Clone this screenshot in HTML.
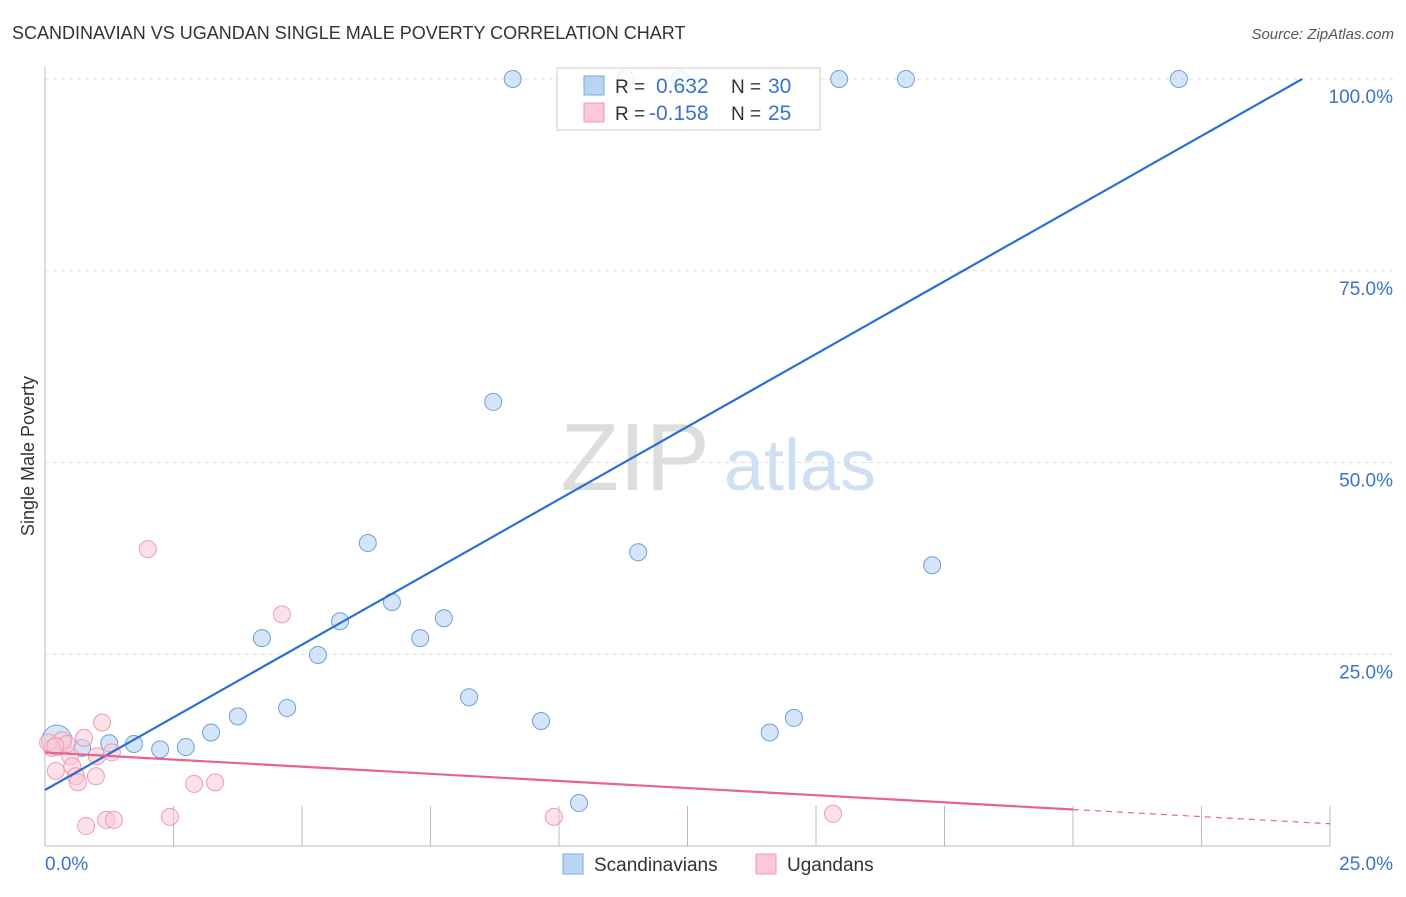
<!DOCTYPE html>
<html><head><meta charset="utf-8"><style>
body{margin:0;background:#fff;font-family:"Liberation Sans",sans-serif;}
svg text{font-family:"Liberation Sans",sans-serif;}
</style></head><body>
<svg id="chart" width="1406" height="892" viewBox="0 0 1406 892" xmlns="http://www.w3.org/2000/svg">
<text x="12" y="39" font-size="18" fill="#333">SCANDINAVIAN VS UGANDAN SINGLE MALE POVERTY CORRELATION CHART</text>
<text x="1394" y="39" font-size="15" fill="#555" text-anchor="end" font-style="italic">Source: ZipAtlas.com</text>
<text transform="translate(34,456) rotate(-90)" font-size="18" fill="#333" text-anchor="middle">Single Male Poverty</text>
<g id="grid"></g>
<g><text x="635" y="490" font-size="96" fill="#ddd" font-family="Liberation Serif" text-anchor="middle">ZIP</text><text x="800" y="490" font-size="72" fill="#cfe0f3" text-anchor="middle">atlas</text></g>
<g id="marks"></g>
<g>
<rect x="557" y="68" width="263" height="62" fill="#fff" fill-opacity="0.85" stroke="#ccc"/>
<rect x="584" y="76" width="20" height="19" fill="#b9d3f3" stroke="#7aa8e0"/>
<rect x="584" y="103" width="20" height="19" fill="#fbc8d6" stroke="#ef9ab3"/>
<text x="615" y="93" font-size="19" fill="#333">R =</text><text x="656" y="93" font-size="21" fill="#3a74c9">0.632</text>
<text x="731" y="93" font-size="19" fill="#333">N =</text><text x="768" y="93" font-size="21" fill="#3a74c9">30</text>
<text x="615" y="120" font-size="19" fill="#333">R =</text><text x="649" y="120" font-size="21" fill="#3a74c9">-0.158</text>
<text x="731" y="120" font-size="19" fill="#333">N =</text><text x="768" y="120" font-size="21" fill="#3a74c9">25</text>
</g>
<g>
<rect x="563" y="854" width="20" height="20" fill="#b9d3f3" stroke="#7aa8e0"/>
<text x="594" y="871" font-size="19" fill="#333">Scandinavians</text>
<rect x="756" y="854" width="20" height="20" fill="#fbc8d6" stroke="#ef9ab3"/>
<text x="787" y="871" font-size="19" fill="#333">Ugandans</text>
</g>
</svg>
<script>
const yTicks=[25,50,75,100];
const yTickLabels=["25.0%","50.0%","75.0%","100.0%"];
const xTickLabels=["0.0%","25.0%"];
const blueX=[9.1,11.3,12.35,15.45,16.75,22.06,8.72,6.28,11.54,17.26,6.75,5.74,7.76,4.22,7.3,5.31,8.25,4.71,3.75,9.65,14.57,14.1,3.23,1.73,1.25,2.24,2.74,10.39,0.72,0.23];
const blueY=[100,100,100,100,100,100,57.9,39.5,38.3,36.6,31.8,29.3,29.7,27.1,27.1,24.9,19.4,18.0,16.9,16.3,16.7,14.8,14.8,13.3,13.4,12.6,12.9,5.6,12.8,13.8];
const pinkX=[2.0,4.61,1.11,0.33,0.76,0.14,0.49,1.01,1.3,0.21,0.53,0.6,0.64,0.99,2.9,3.31,0.8,1.19,1.34,2.43,9.9,15.33,0.43,0.06,0.2];
const pinkY=[38.7,30.2,16.1,13.8,14.1,12.8,11.7,11.7,12.2,9.8,10.4,9.1,8.3,9.1,8.1,8.3,2.6,3.4,3.4,3.8,3.8,4.2,13.3,13.5,13.0];
const blueLine=[7.3,3.79]; // intercept, slope
const pinkLine=[12.2,-0.372];
const X0=45,X1=1330,Y0=846,Y100=79;
const sx=v=>X0+(X1-X0)*v/25, sy=v=>Y0-(Y0-Y100)*v/100;
const NS="http://www.w3.org/2000/svg";
function mk(parent,tag,attrs){const e=document.createElementNS(NS,tag);for(const k in attrs)e.setAttribute(k,attrs[k]);parent.appendChild(e);return e;}
const grid=document.getElementById('grid'),marks=document.getElementById('marks');
yTicks.forEach((t,i)=>{
 const l=mk(grid,'line',{x1:45,x2:1394,y1:sy(t),y2:sy(t),stroke:'#ddd','stroke-dasharray':'4,4'});
 
 
 const tx=mk(grid,'text',{x:1393,y:sy(t)+24,'font-size':19,fill:'#3a74c9','text-anchor':'end'});
 tx.textContent=yTickLabels[i];
 
 
});
const ax=mk(grid,'line',{x1:45,x2:45,y1:67,y2:846,stroke:'#bbb'});


const bx=mk(grid,'line',{x1:45,x2:1330,y1:846,y2:846,stroke:'#bbb'});


for(let i=1;i<=10;i++){const t=mk(grid,'line',{x1:sx(i*2.5),x2:sx(i*2.5),y1:806,y2:846,stroke:'#bbb'});
 
 }
xTickLabels.forEach((s,i)=>{const t=mk(grid,'text',{x:i?1393:45,y:870,'font-size':19,fill:'#3a74c9','text-anchor':i?'end':'start'});t.textContent=s;
 
 });
blueX.forEach((x,i)=>{const c=mk(marks,'circle',{cx:sx(x),cy:sy(blueY[i]),r:(i==blueX.length-1)?15:8.5,fill:'#b9d3f3','fill-opacity':0.6,stroke:'#6f9fdc','stroke-width':1});
 
 });
pinkX.forEach((x,i)=>{const c=mk(marks,'circle',{cx:sx(x),cy:sy(pinkY[i]),r:8.5,fill:'#fbc8d6','fill-opacity':0.55,stroke:'#ef9ab3','stroke-width':1});
 
 });
const bxEnd=(100-blueLine[0])/blueLine[1];
const bl=mk(marks,'line',{x1:sx(0),y1:sy(blueLine[0]),x2:sx(bxEnd),y2:sy(100),stroke:'#2a6fd6','stroke-width':2.2});


const pe=20;
const pl=mk(marks,'line',{x1:sx(0),y1:sy(pinkLine[0]),x2:sx(pe),y2:sy(pinkLine[0]+pinkLine[1]*pe),stroke:'#e8638f','stroke-width':2.2});


const pd=mk(marks,'line',{x1:sx(pe),y1:sy(pinkLine[0]+pinkLine[1]*pe),x2:sx(25),y2:sy(pinkLine[0]+pinkLine[1]*25),stroke:'#e8638f','stroke-width':1.2,'stroke-dasharray':'6,5'});


</script>
</body></html>
